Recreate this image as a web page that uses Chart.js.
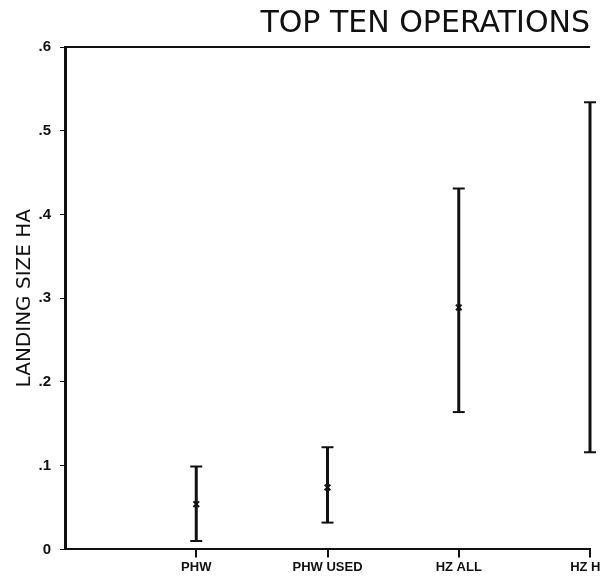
<!DOCTYPE html>
<html>
<head>
<meta charset="utf-8">
<script src="https://cdn.jsdelivr.net/npm/chart.js@4.4.0/dist/chart.umd.min.js"></script>
<style>
  html, body { margin: 0; padding: 0; background: #fff; }
  #wrap { width: 600px; height: 577px; }
</style>
</head>
<body>
<div id="wrap"><canvas id="myChart"></canvas></div>
<script>
const categories = ['PHW', 'PHW USED', 'HZ ALL', 'HZ HA'];
const lowValues = [0.010, 0.032, 0.164, 0.116];
const highValues = [0.099, 0.122, 0.431, 0.534];
const meanValues = [0.054, 0.074, 0.289, null];
const yTickLabels = ['0', '.1', '.2', '.3', '.4', '.5', '.6'];

const ink = '#111';

// one line dataset per range, caps drawn as horizontal line points
let rangeSets = categories.map((name, i) => ({
  type: 'line',
  label: name,
  data: [{ x: i + 1, y: lowValues[i] }, { x: i + 1, y: highValues[i] }],
  borderColor: ink,
  backgroundColor: ink,
  borderWidth: 3,
  pointStyle: 'line',
  pointRadius: 6,
  pointBorderWidth: 2,
  clip: false,
}));

let meanSet = {
  type: 'scatter',
  label: 'mean',
  data: meanValues
    .map((v, i) => (v == null ? null : { x: i + 1, y: v }))
    .filter((p) => p),
  pointStyle: 'crossRot',
  pointRadius: 4,
  borderColor: ink,
  borderWidth: 2,
  clip: false,
};

// top frame line
const topFrame = {
  id: 'topFrame',
  afterDraw(chart) {
    const { ctx, chartArea } = chart;
    ctx.save();
    ctx.strokeStyle = ink;
    ctx.lineWidth = 2;
    ctx.beginPath();
    ctx.moveTo(chartArea.left, chartArea.top);
    ctx.lineTo(chartArea.right, chartArea.top);
    ctx.stroke();
    ctx.restore();
  },
};

new Chart(document.getElementById('myChart'), {
  data: { datasets: [...rangeSets, meanSet] },
  options: {
    responsive: true,
    maintainAspectRatio: false,
    animation: false,
    layout: { padding: { left: 0, right: 10, top: 0, bottom: 0 } },
    scales: {
      x: {
        type: 'linear',
        min: 0,
        max: 4,
        afterBuildTicks: (scale) => {
          scale.ticks = categories.map((c, i) => ({ value: i + 1 }));
        },
        afterFit: (scale) => {
          scale.paddingLeft = 0;
          scale.paddingRight = 0;
        },
        ticks: {
          color: ink,
          padding: 2,
          maxRotation: 0,
          autoSkip: false,
          font: { family: '"Liberation Sans Narrow", "Liberation Sans"', size: 13, weight: 'bold' },
          callback: (v) => categories[v - 1] || '',
        },
        grid: { drawOnChartArea: false, drawTicks: true, tickLength: 8, color: ink, lineWidth: 2 },
        border: { color: ink, width: 2 },
      },
      y: {
        min: 0,
        max: 0.6,
        afterFit: (scale) => {
          scale.width = 65;
        },
        ticks: {
          stepSize: 0.1,
          color: ink,
          padding: 9,
          font: { family: '"Liberation Sans"', size: 15, weight: 'bold' },
          callback: (v) => yTickLabels[Math.round(v * 10)],
        },
        title: {
          display: true,
          text: 'LANDING SIZE HA',
          color: ink,
          font: { family: '"DejaVu Sans"', size: 20 },
          padding: { top: 13, bottom: 0 },
        },
        grid: { drawOnChartArea: false, drawTicks: true, tickLength: 5, color: ink },
        border: { color: ink, width: 3 },
      },
    },
    plugins: {
      legend: { display: false },
      tooltip: { enabled: false },
      title: {
        display: true,
        text: 'TOP TEN OPERATIONS',
        align: 'end',
        color: ink,
        font: { family: '"DejaVu Sans"', size: 30, weight: 'normal' },
        padding: { top: 6, bottom: 5 },
      },
    },
  },
  plugins: [topFrame],
});
</script>
</body>
</html>
